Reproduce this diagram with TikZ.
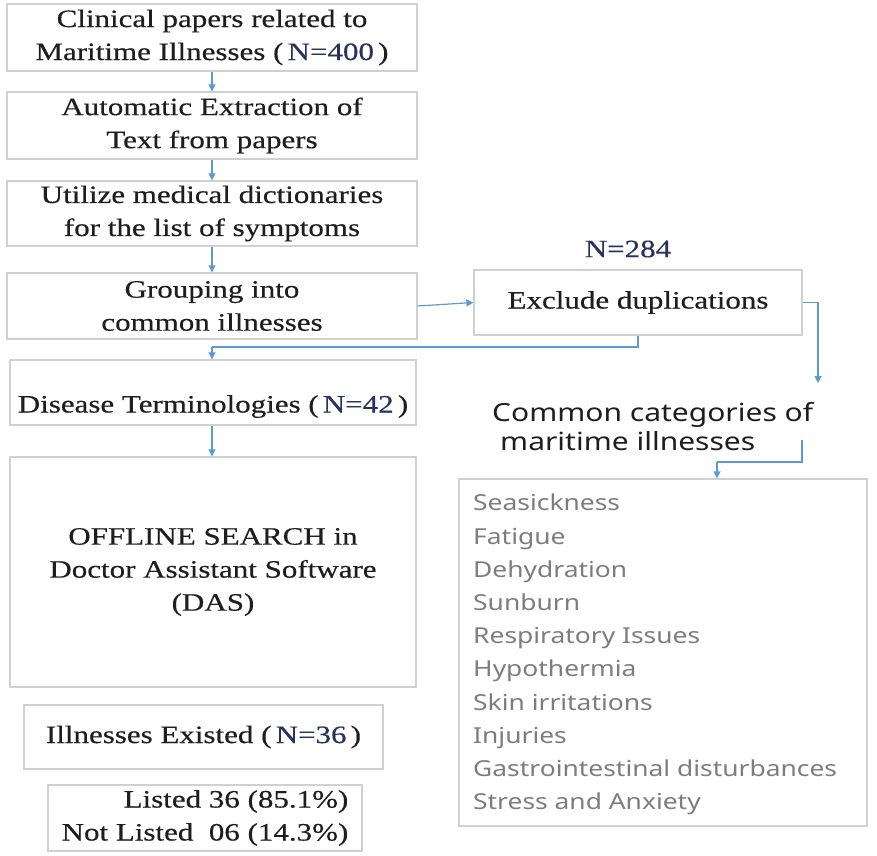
\documentclass[tikz,border=0pt]{standalone}
\usepackage{fontspec}
\setmainfont{Liberation Serif}[FakeStretch=1.24, FakeBold=0.4]
\newfontfamily\catfont{Noto Sans}[FakeStretch=1.2]
\usetikzlibrary{arrows.meta,calc}
\definecolor{arrblue}{RGB}{91,155,213}
\definecolor{boxgrey}{RGB}{208,208,208}
\definecolor{txt}{RGB}{30,30,30}
\definecolor{nblue}{RGB}{40,50,95}
\definecolor{catgrey}{RGB}{125,125,125}
\tikzset{
  box/.style={draw=boxgrey, line width=1.3pt, fill=white, align=center, text=txt,
    font=\fontsize{25}{33}\selectfont, inner sep=0pt},
  arr/.style={draw=arrblue, line width=1.2pt, -{Triangle[length=7pt,width=7pt]}},
  ln/.style={draw=arrblue, line width=1.2pt},
}
\newcommand{\nval}[1]{\textcolor{nblue}{#1}}
\begin{document}
\begin{tikzpicture}[x=1pt,y=-1pt]
\useasboundingbox (0,0) rectangle (877,855);
\node[box, minimum width=410, minimum height=67] (b1) at (212,37.5)
  {Clinical papers related to\\Maritime Illnesses (\,\nval{N=400}\,)};
\node[box, minimum width=410, minimum height=67] (b2) at (212,125.5)
  {Automatic Extraction of\\Text from papers};
\node[box, minimum width=410, minimum height=65] (b3) at (212,213.5)
  {Utilize medical dictionaries\\for the list of symptoms};
\node[box, minimum width=410, minimum height=66] (b4) at (212,306)
  {Grouping into\\common illnesses};
\node[box, minimum width=328, minimum height=65] (excl) at (638,302.5)
  {Exclude duplications};
\node[text=nblue, font=\fontsize{25}{28}\selectfont] (n284) at (628,249) {N=284};
\node[box, minimum width=406, minimum height=65] (dis) at (213,392.5)
  {\raisebox{-20pt}[0pt][0pt]{Disease Terminologies (\,\nval{N=42}\,)}};
\node[box, minimum width=406, minimum height=230] (off) at (213,572)
  {OFFLINE SEARCH in\\Doctor Assistant Software\\(DAS)};
\node[box, minimum width=359, minimum height=64] (ill) at (203.5,737)
  {Illnesses Existed (\,\nval{N=36}\,)};
\node[box, minimum width=314, minimum height=66, align=right] (lst) at (205,818)
  {\hspace*{20pt}Listed 36 (85.1\%)\\Not Listed\ \ 06 (14.3\%)};
\node[anchor=west, align=left, text=txt, inner sep=0pt,
  font=\catfont\fontsize{25}{29}\selectfont] (cc) at (492,427)
  {Common categories of\\\hspace*{8pt}maritime illnesses};
\node[draw=boxgrey, line width=1.3pt, minimum width=408, minimum height=347, inner sep=0pt] (cats) at (663,652.5) {};
\node[anchor=north west, align=left, text=catgrey, inner sep=0pt,
  font=\catfont\fontsize{22}{33.2}\selectfont] (catlist) at (473,494)
  {Seasickness\\Fatigue\\Dehydration\\Sunburn\\Respiratory Issues\\Hypothermia\\Skin irritations\\Injuries\\Gastrointestinal disturbances\\Stress and Anxiety};
% connectors
\draw[arr] (b1.south) -- (b2.north);
\draw[arr] (b2.south) -- (b3.north);
\draw[arr] (b3.south) -- (b4.north);
\draw[arr] (b4.east) -- (excl.west);
\coordinate (j1) at (212,347);
\draw[ln] (excl.south) |- (j1);
\draw[arr] (j1) -- (j1 |- dis.north);
\draw[arr] (dis.south -| j1) -- (j1 |- off.north);
\coordinate (c1) at (818,383);
\draw[arr] (excl.east) -| (c1);
\coordinate (c2) at (802,440);
\coordinate (c3) at (717,462);
\draw[ln] (c2) |- (c3);
\draw[arr] (c3) -- (c3 |- cats.north);
\end{tikzpicture}
\end{document}
